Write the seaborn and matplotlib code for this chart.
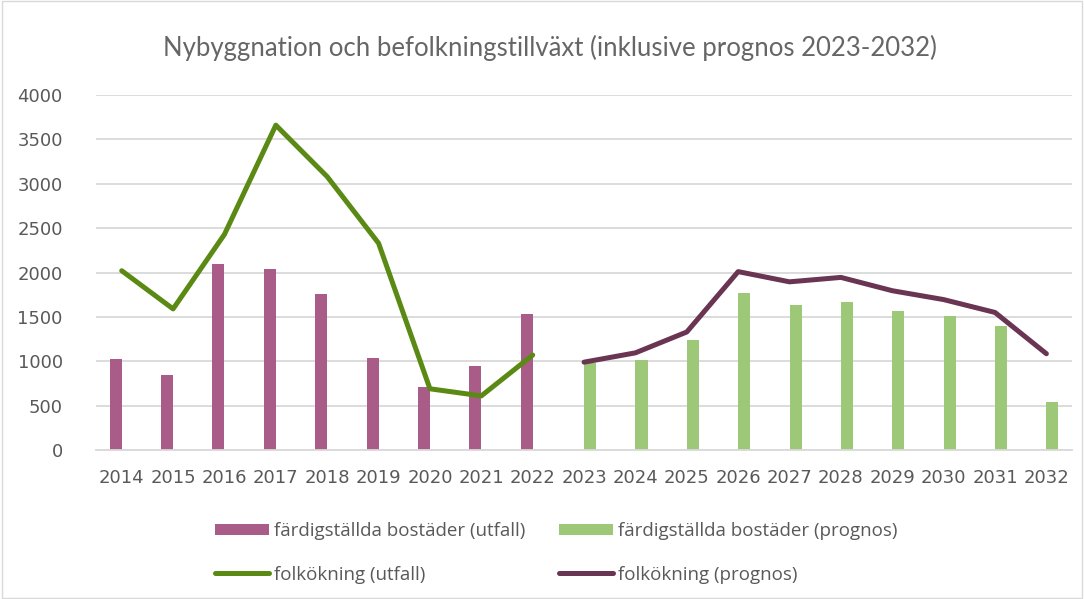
import matplotlib
matplotlib.use("Agg")
import matplotlib.pyplot as plt
from matplotlib.patches import Patch, Rectangle
from matplotlib.lines import Line2D
import numpy as np
import pandas as pd
import seaborn as sns

# värden
years_utfall = [2014, 2015, 2016, 2017, 2018, 2019, 2020, 2021, 2022]
years_prognos = [2023, 2024, 2025, 2026, 2027, 2028, 2029, 2030, 2031, 2032]
bostader_utfall = [1020, 850, 2100, 2040, 1760, 1040, 710, 950, 1530]
bostader_prognos = [975, 1010, 1240, 1765, 1635, 1670, 1570, 1515, 1400, 540]
folk_utfall = [2020, 1590, 2430, 3660, 3080, 2330, 690, 610, 1070]
folk_prognos = [990, 1095, 1330, 2010, 1895, 1945, 1795, 1695, 1550, 1085]

lab_bu = "färdigställda bostäder (utfall)"
lab_bp = "färdigställda bostäder (prognos)"
lab_fu = "folkökning (utfall)"
lab_fp = "folkökning (prognos)"

c_pink = "#A95C88"
c_lgreen = "#9DC878"
c_green = "#5A8A14"
c_purple = "#6A3453"
c_text = "#595959"
c_grid = "#D9D9D9"

sns.set_theme(style="white")
plt.rcParams["font.family"] = ["DejaVu Sans"]

bars = pd.DataFrame({
    "year": years_utfall + years_prognos,
    "value": bostader_utfall + bostader_prognos,
    "serie": [lab_bu] * len(years_utfall) + [lab_bp] * len(years_prognos),
})

fig = plt.figure(figsize=(10.84, 5.99), dpi=100)
ax = fig.add_axes([0.0886, 0.2487, 0.9004, 0.5927])

sns.barplot(data=bars, x="year", y="value", hue="serie", hue_order=[lab_bu, lab_bp],
            palette=[c_pink, c_lgreen], native_scale=True, width=0.47,
            dodge=True, ax=ax, legend=False, linewidth=0, saturation=1)
sns.lineplot(x=years_utfall, y=folk_utfall, color=c_green, lw=3.6, ax=ax,
             solid_capstyle="round")
sns.lineplot(x=years_prognos, y=folk_prognos, color=c_purple, lw=3.6, ax=ax,
             solid_capstyle="round")

ax.set_xlim(2013.5, 2032.5)
ax.set_ylim(0, 4000)
ax.set_yticks(np.arange(0, 4001, 500))
ax.set_xticks(years_utfall + years_prognos)
ax.set_xticklabels([str(y) for y in years_utfall + years_prognos])
ax.yaxis.grid(True, color=c_grid, lw=1.3)
ax.set_axisbelow(True)
for s in ["top", "right", "left"]:
    ax.spines[s].set_visible(False)
ax.spines["bottom"].set_color(c_grid)
ax.spines["bottom"].set_linewidth(1.3)
ax.tick_params(axis="both", length=0, labelsize=13, colors=c_text)
ax.tick_params(axis="y", pad=24)
ax.tick_params(axis="x", pad=14)
ax.set_xlabel("")
ax.set_ylabel("")

fig.text(0.507, 0.92, "Nybyggnation och befolkningstillväxt (inklusive prognos 2023-2032)",
         ha="center", va="center", fontsize=18.5, color="#666666", family="Lato")

handles = [
    Patch(facecolor=c_pink, edgecolor="none"),
    Line2D([], [], color=c_green, lw=3.6, solid_capstyle="round"),
    Patch(facecolor=c_lgreen, edgecolor="none"),
    Line2D([], [], color=c_purple, lw=3.6, solid_capstyle="round"),
]
labels = [lab_bu, lab_fu, lab_bp, lab_fp]
fig.legend(handles, labels, ncol=2, loc="center", bbox_to_anchor=(0.513, 0.077),
           frameon=False, labelcolor=c_text, handlelength=2.9,
           handleheight=0.55, handletextpad=0.25, columnspacing=1.8,
           labelspacing=1.35, prop={"family": "Open Sans", "size": 13.5})

fig.patches.append(Rectangle((0.002, 0.002), 0.996, 0.996, transform=fig.transFigure,
                             fill=False, edgecolor=c_grid, lw=1))

fig.savefig("out.png", dpi=100)
